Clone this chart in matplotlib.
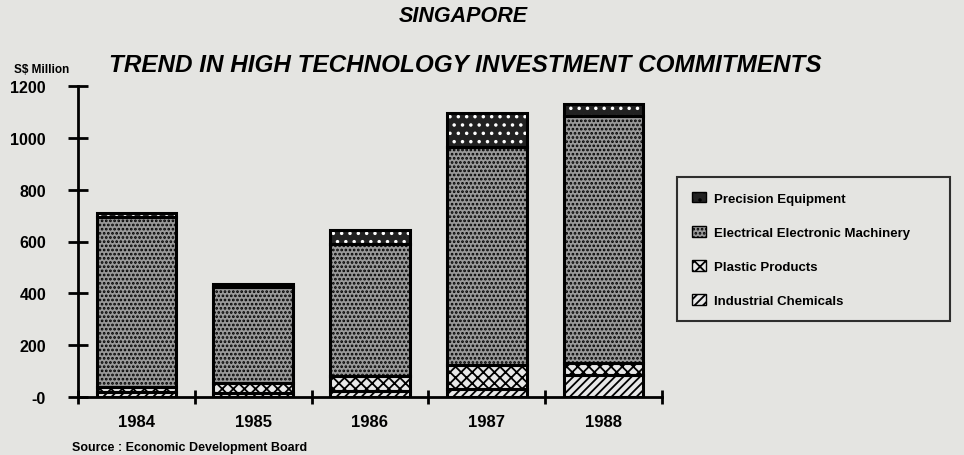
import matplotlib
matplotlib.use("Agg")
import matplotlib.pyplot as plt
from matplotlib.patches import Patch
import numpy as np

years = ["1984", "1985", "1986", "1987", "1988"]
industrial_chemicals = [20, 15, 25, 30, 85]
plastic_products = [20, 40, 55, 95, 45]
electrical_machinery = [655, 370, 510, 840, 955]
precision_equipment = [15, 10, 55, 130, 45]
series_names = ["Industrial Chemicals", "Plastic Products",
                "Electrical Electronic Machinery", "Precision Equipment"]
y_ticks = [0, 200, 400, 600, 800, 1000, 1200]
y_tick_labels = ["-0", "200", "400", "600", "800", "1000", "1200"]

BG = "#e4e4e1"
plt.rcParams['font.family'] = ['Liberation Sans', 'DejaVu Sans']
plt.rcParams['hatch.linewidth'] = 1.3

fig = plt.figure(figsize=(9.64, 4.56), dpi=100, facecolor=BG)
ax = fig.add_axes([78/964, 1-398/456, (662-78)/964, (398-87)/456])
ax.set_facecolor(BG)

styles = [
    dict(face="#e8e8e8", hatch="////", hc="black"),
    dict(face="#e8e8e8", hatch="xxx", hc="black"),
    dict(face="#9a9a9a", hatch="....", hc="black"),
    dict(face="#222222", hatch="..", hc="white"),
]
data = [industrial_chemicals, plastic_products, electrical_machinery, precision_equipment]
x = np.arange(len(years))
w = 0.68
bottom = np.zeros(len(years))
for vals, st in zip(data, styles):
    vals = np.array(vals, dtype=float)
    ax.bar(x, vals, w, bottom=bottom, color=st["face"], hatch=st["hatch"],
           edgecolor=st["hc"], linewidth=0, zorder=2)
    ax.bar(x, vals, w, bottom=bottom, fill=False, edgecolor="black",
           linewidth=2.2, zorder=3)
    bottom += vals

ax.set_xlim(-0.5, 4.5)
ax.set_ylim(0, 1200)
for s in ["top", "right"]:
    ax.spines[s].set_visible(False)
for s in ["left", "bottom"]:
    ax.spines[s].set_linewidth(2)
ax.set_yticks(y_ticks)
ax.set_yticklabels(y_tick_labels, fontsize=11.5, fontweight="bold")
ax.tick_params(axis="y", direction="inout", length=14, width=2, pad=16)
ax.set_xticks(np.arange(-0.5, 5.0, 1.0))
ax.set_xticklabels([])
ax.tick_params(axis="x", which="major", direction="inout", length=10, width=2)
ax.set_xticks(x, minor=True)
ax.set_xticklabels(years, minor=True, fontsize=12, fontweight="bold")
ax.tick_params(axis="x", which="minor", length=0, pad=12)
for lab in ax.get_yticklabels():
    lab.set_horizontalalignment("right")

fig.text(463/964, 1-17/456, "SINGAPORE", ha="center", va="center",
         fontsize=15.5, fontweight="bold", fontstyle="italic")
fig.text(465/964, 1-66/456, "TREND IN HIGH TECHNOLOGY INVESTMENT COMMITMENTS",
         ha="center", va="center", fontsize=17.5, fontweight="bold", fontstyle="italic")
fig.text(14/964, 1-70/456, "S$ Million", ha="left", va="center",
         fontsize=8.5, fontweight="bold")
fig.text(72/964, 1-448/456, "Source : Economic Development Board", ha="left",
         va="center", fontsize=9, fontweight="bold")

handles = [Patch(facecolor=st["face"], hatch=st["hatch"], edgecolor="black")
           for st in styles][::-1]
labels = series_names[::-1]
leg = fig.legend(handles, labels, loc="upper left",
                 bbox_to_anchor=(677/964, 1-318/456, (950-677)/964, (318-178)/456),
                 mode="expand", borderaxespad=0, fancybox=False, frameon=True,
                 prop=dict(family="Liberation Sans", weight="bold", size=9.5),
                 handlelength=1.1, handleheight=0.9, handletextpad=0.6,
                 labelspacing=1.6, borderpad=1.1)
leg.get_frame().set_edgecolor("black")
leg.get_frame().set_linewidth(1.5)
leg.get_frame().set_facecolor(BG)

fig.savefig("out.png", dpi=100, facecolor=BG)
